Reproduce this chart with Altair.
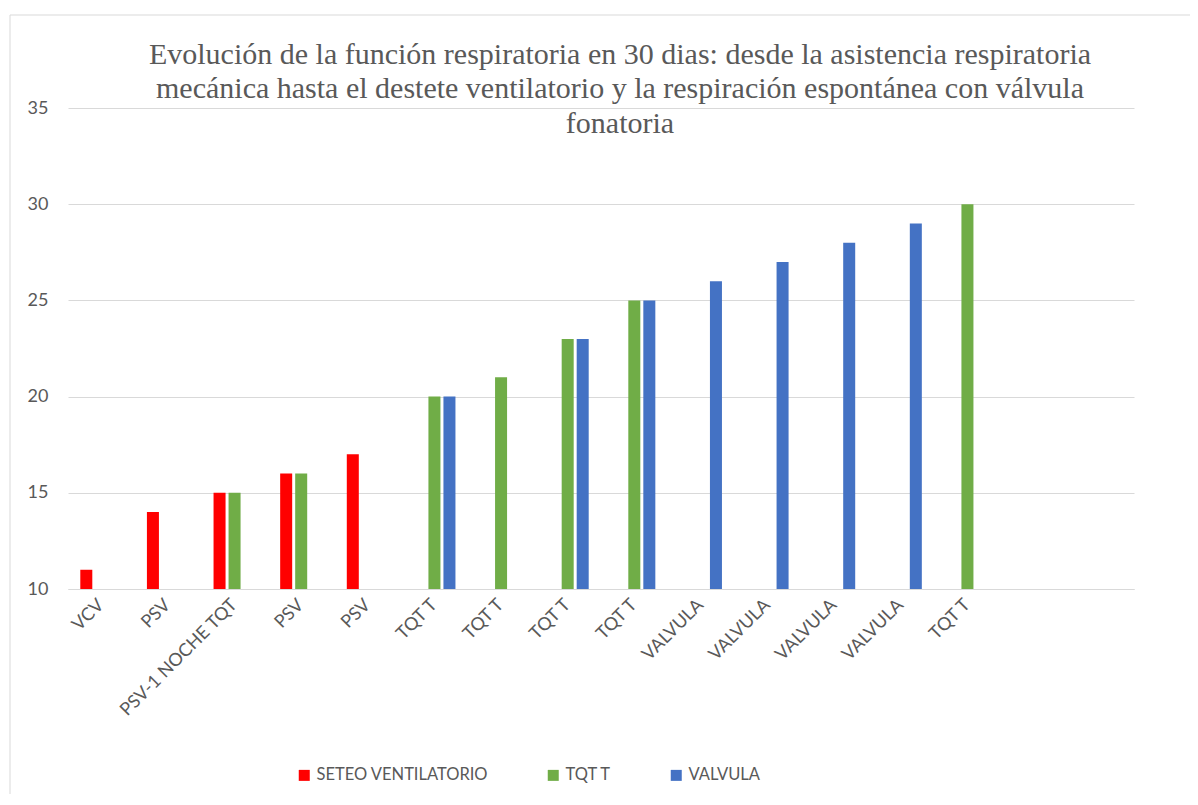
import json
import altair as alt
import pandas as pd

categories = ["VCV", "PSV", "PSV-1 NOCHE TQT", "PSV", "PSV", "TQT T", "TQT T", "TQT T",
              "TQT T", "VALVULA", "VALVULA", "VALVULA", "VALVULA", "TQT T", "", ""]
seteo = [11, 14, 15, 16, 17, None, None, None, None, None, None, None, None, None, None, None]
tqt = [None, None, 15, 16, None, 20, 21, 23, 25, None, None, None, None, 30, None, None]
valvula = [None, None, None, None, None, 20, None, 23, 25, 26, 27, 28, 29, None, None, None]
series_names = ["SETEO VENTILATORIO", "TQT T", "VALVULA"]
series_colors = ["#FF0000", "#70AD47", "#4472C4"]
y_ticks = [10, 15, 20, 25, 30, 35]
title_lines = [
    "Evolución de la función respiratoria en 30 dias: desde la asistencia respiratoria",
    "mecánica hasta el destete ventilatorio y la respiración espontánea con válvula",
    "fonatoria",
]

rows = []
for i in range(len(categories)):
    for name, vals in zip(series_names, [seteo, tqt, valvula]):
        if vals[i] is not None:
            rows.append({"idx": i, "serie": name, "valor": vals[i]})
df = pd.DataFrame(rows)

label_expr = json.dumps(categories) + "[datum.value]"

bars = alt.Chart(df).mark_bar().encode(
    x=alt.X("idx:O", scale=alt.Scale(domain=list(range(len(categories))),
                                     paddingInner=0.324, paddingOuter=0.162),
            axis=alt.Axis(title=None, labelExpr=label_expr, labelAngle=-45,
                          labelAlign="right", labelBaseline="middle",
                          labelFont="Lato", labelFontSize=18, labelColor="#595959",
                          labelPadding=13, ticks=False, domainColor="#D9D9D9",
                          grid=False, labelOverlap=False, labelLimit=0)),
    xOffset=alt.XOffset("serie:N", sort=series_names,
                        scale=alt.Scale(domain=series_names, paddingInner=0.2, paddingOuter=0.1)),
    y=alt.Y("valor:Q", scale=alt.Scale(domain=[10, 35], zero=False, nice=False),
            axis=alt.Axis(title=None, values=y_ticks, labelFont="Lato", labelFontSize=18,
                          labelColor="#595959", labelPadding=20, ticks=False, domain=False,
                          gridColor="#D9D9D9", gridWidth=1)),
    y2=alt.datum(10),
    color=alt.Color("serie:N", sort=series_names,
                    scale=alt.Scale(domain=series_names, range=series_colors),
                    legend=alt.Legend(title=None, orient="none", direction="horizontal",
                                      legendX=228, legendY=659, symbolType="square",
                                      symbolSize=121, symbolStrokeWidth=0,
                                      labelFont="Lato", labelFontSize=16.5,
                                      labelColor="#595959", labelOffset=4,
                                      columnPadding=56, labelLimit=0)),
)

frame = alt.Data(values=[{"k": 1}])
left_border = alt.Chart(frame).mark_rule(color="#D9D9D9", strokeWidth=1).encode(
    x=alt.value(-58), y=alt.value(-93), y2=alt.value(700))
top_border = alt.Chart(frame).mark_rule(color="#D9D9D9", strokeWidth=1).encode(
    x=alt.value(-58), x2=alt.value(1130), y=alt.value(-93))

chart = alt.layer(left_border, top_border, bars).properties(
    width=1066, height=481,
    background="white",
    autosize=alt.AutoSizeParams(type="none"),
    padding={"left": 60, "top": 100, "right": 56, "bottom": 205},
    title=alt.TitleParams(text=title_lines, font="Liberation Serif", fontSize=30,
                          fontWeight="normal", color="#595959", lineHeight=34.5,
                          anchor="middle", dx=19, offset=-124),
).configure_view(stroke=None)

chart.save("out.html", embed_options={"renderer": "svg", "actions": False})
